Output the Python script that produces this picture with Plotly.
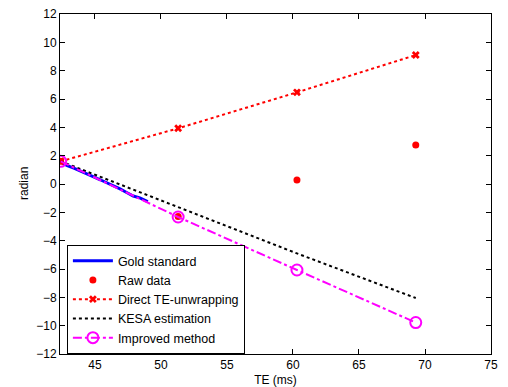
import plotly.graph_objects as go

te = [42.4, 51.3, 60.3, 69.3]
raw_data = [1.6, -2.3, 0.28, 2.76]
direct_unwrap = [1.6, 3.93, 6.47, 9.1]
kesa = [1.6, -1.65, -4.9, -8.05]
improved = [1.6, -2.33, -6.07, -9.78]

gold_te = [42.4, 42.9, 43.4, 43.9, 44.4, 44.9, 45.4, 45.9, 46.4, 46.9, 47.4, 47.9, 48.4, 49.0]
gold_phase = [1.55, 1.3, 1.12, 0.9, 0.72, 0.5, 0.3, 0.1, -0.12, -0.35, -0.6, -0.85, -0.98, -1.25]

x_ticks = [45, 50, 55, 60, 65, 70, 75]
y_ticks = list(range(-12, 13, 2))

FONT = "Liberation Sans, Arial, Helvetica"

fig = go.Figure()
fig.add_trace(go.Scatter(x=gold_te, y=gold_phase, mode="lines", name="Gold standard",
                         line=dict(color="#0000ff", width=3)))
fig.add_trace(go.Scatter(x=te, y=raw_data, mode="markers", name="Raw data",
                         marker=dict(color="#ff0000", size=7, symbol="circle")))
fig.add_trace(go.Scatter(x=te, y=direct_unwrap, mode="lines+markers", name="Direct TE-unwrapping",
                         line=dict(color="#ff0000", width=2, dash="dot"),
                         marker=dict(color="#ff0000", size=7, symbol="x")))
fig.add_trace(go.Scatter(x=te, y=kesa, mode="lines", name="KESA estimation",
                         line=dict(color="#000000", width=2, dash="dot")))
fig.add_trace(go.Scatter(x=te, y=improved, mode="lines+markers", name="Improved method",
                         line=dict(color="#ff00ff", width=2, dash="dashdot"),
                         marker=dict(color="#ff00ff", size=11, symbol="circle-open",
                                     line=dict(width=2, color="#ff00ff"))))

axis_common = dict(showline=True, linecolor="black", linewidth=1, mirror="ticks",
                   ticks="inside", ticklen=5, tickcolor="black", showgrid=False,
                   zeroline=False, automargin=False,
                   tickfont=dict(family=FONT, size=12, color="black"))
fig.update_xaxes(range=[42.35, 75], tickvals=x_ticks,
                 title=dict(text="TE (ms)", font=dict(family=FONT, size=12, color="black")),
                 **axis_common)
fig.update_yaxes(range=[-12, 12], tickvals=y_ticks, **axis_common)

fig.add_annotation(text="radian", textangle=-90, xref="paper", yref="paper",
                   x=-0.0835, y=0.5, xanchor="center", yanchor="middle", showarrow=False,
                   font=dict(family=FONT, size=12, color="black"))

fig.update_layout(
    width=508, height=387,
    margin=dict(l=60, r=17, t=14, b=33),
    paper_bgcolor="white", plot_bgcolor="white",
    font=dict(family=FONT, size=12, color="black"),
    legend=dict(x=0.016, y=0.0, xanchor="left", yanchor="bottom",
                bgcolor="white", bordercolor="black", borderwidth=1,
                font=dict(size=12.5), tracegroupgap=0, itemwidth=40),
    showlegend=True,
)
fig.write_html("out.html", config={"displayModeBar": False})

with open("out.html", "r", encoding="utf-8") as f:
    html = f.read()
html = html.replace("<head>", "<head><style>html,body{margin:0;padding:0;overflow:hidden;}</style>", 1)
with open("out.html", "w", encoding="utf-8") as f:
    f.write(html)
